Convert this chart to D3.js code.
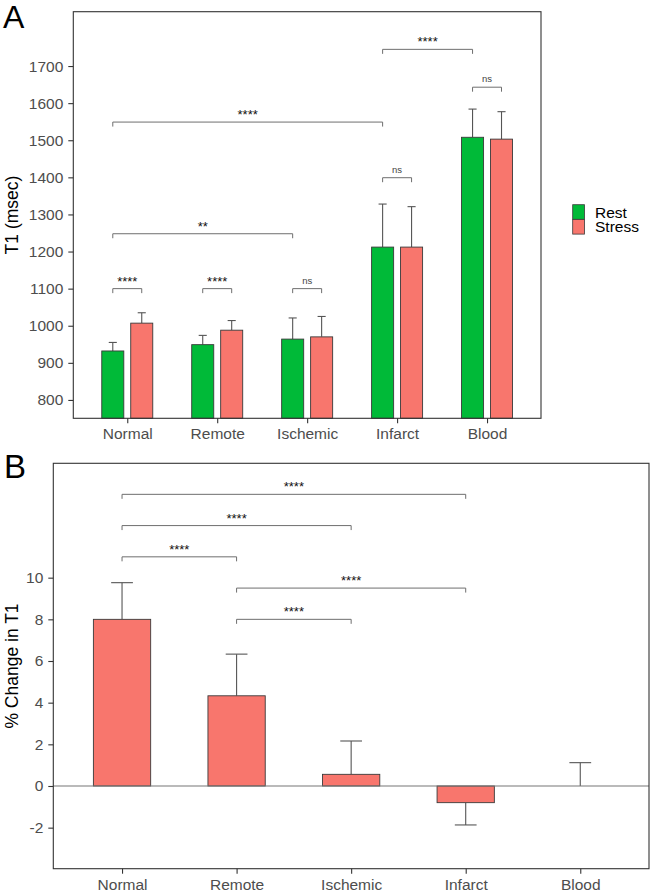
<!DOCTYPE html>
<html>
<head>
<meta charset="utf-8">
<script src="https://cdn.jsdelivr.net/npm/d3@7"></script>
<style>
  html, body { margin: 0; padding: 0; background: #fff; }
  svg { display: block; font-family: "Liberation Sans", Arial, sans-serif; }
</style>
</head>
<body>
<svg id="chart" width="652" height="893"></svg>
<script>
// ---------------- DATA ----------------
const categories = ["Normal", "Remote", "Ischemic", "Infarct", "Blood"];
const groups = ["Rest", "Stress"];
const restMean = [932, 949, 964, 1212, 1508];
const restSD = [23, 25, 57, 116, 76];
const stressMean = [1007, 988, 970, 1212, 1503];
const stressSD = [28, 26, 55, 109, 74];
const yTicksA = [800, 900, 1000, 1100, 1200, 1300, 1400, 1500, 1600, 1700];

// brackets for panel A: [cat1, group1, cat2, group2, yValue, label]
const bracketsA = [
  ["Normal", "Rest", "Normal", "Stress", 1100, "****"],
  ["Remote", "Rest", "Remote", "Stress", 1100, "****"],
  ["Ischemic", "Rest", "Ischemic", "Stress", 1100, "ns"],
  ["Normal", "Rest", "Ischemic", "Rest", 1248, "**"],
  ["Normal", "Rest", "Infarct", "Rest", 1549, "****"],
  ["Infarct", "Rest", "Infarct", "Stress", 1399, "ns"],
  ["Blood", "Rest", "Blood", "Stress", 1643, "ns"],
  ["Infarct", "Rest", "Blood", "Rest", 1745, "****"]
];

const changeMean = [8.0, 4.33, 0.56, -0.8, 0.0];
const changeSD = [1.76, 2.0, 1.6, 1.07, 1.12];
const yTicksB = [-2, 0, 2, 4, 6, 8, 10];
// brackets for panel B: [cat1, cat2, yValue, label]
const bracketsB = [
  ["Normal", "Infarct", 14.0, "****"],
  ["Normal", "Ischemic", 12.5, "****"],
  ["Normal", "Remote", 11.0, "****"],
  ["Remote", "Infarct", 9.5, "****"],
  ["Remote", "Ischemic", 8.0, "****"]
];

// ---------------- STYLE ----------------
const colors = { Rest: "#00BA38", Stress: "#F8766D" };
const tickColor = "#4d4d4d";
const svg = d3.select("#chart");
const fmt = d => String(d);

function frame(g, x0, x1, y0, y1) {
  g.append("rect").attr("x", x0).attr("y", y0).attr("width", x1 - x0).attr("height", y1 - y0)
    .attr("fill", "none").attr("stroke", "#333").attr("stroke-width", 1.1);
}

function styleAxis(sel) {
  sel.select(".domain").remove();
  sel.selectAll(".tick line").attr("stroke", "#333").attr("stroke-width", 1.1);
  sel.selectAll(".tick text").attr("fill", tickColor).style("font-size", "15.5px")
     .style("font-family", "'Liberation Sans', Arial, sans-serif");
}

function bracket(g, xa, xb, y, label, fontSize, ofs) {
  g.append("path")
    .attr("d", `M${xa},${y + 4.5}V${y}H${xb}V${y + 4.5}`)
    .attr("fill", "none").attr("stroke", "#6e6e6e").attr("stroke-width", 1);
  g.append("text").attr("x", (xa + xb) / 2).attr("y", y - ofs)
    .attr("text-anchor", "middle").attr("fill", label === "ns" ? "#444" : "#111")
    .style("font-size", fontSize + "px").text(label);
}

// ---------------- PANEL A ----------------
{
  const L = 73.3, R = 541, T = 11.7, B = 418.3;
  const gA = svg.append("g");
  const x = d3.scaleLinear().domain([0.4, categories.length + 0.6]).range([L, R]);
  const y = d3.scaleLinear().domain([750.5, 1846.5]).range([B, T]);
  const unit = x(2) - x(1);
  const barW = 0.245 * unit;
  const off = 0.161 * unit;
  const capW = 0.09 * unit;
  const cx = (c, gname) => x(categories.indexOf(c) + 1) + (gname === "Rest" ? -off : off);

  const rows = [];
  categories.forEach((c, i) => {
    rows.push({ c, g: "Rest", m: restMean[i], sd: restSD[i] });
    rows.push({ c, g: "Stress", m: stressMean[i], sd: stressSD[i] });
  });

  // error bars (upper only)
  const eb = gA.append("g").attr("stroke", "#555").attr("stroke-width", 1.1);
  rows.forEach(r => {
    const xc = cx(r.c, r.g);
    eb.append("line").attr("x1", xc).attr("x2", xc).attr("y1", y(r.m)).attr("y2", y(r.m + r.sd));
    eb.append("line").attr("x1", xc - capW / 2).attr("x2", xc + capW / 2).attr("y1", y(r.m + r.sd)).attr("y2", y(r.m + r.sd));
  });
  // bars
  gA.append("g").selectAll("rect").data(rows).join("rect")
    .attr("x", d => cx(d.c, d.g) - barW / 2)
    .attr("width", barW)
    .attr("y", d => y(d.m))
    .attr("height", d => B - y(d.m))
    .attr("fill", d => colors[d.g])
    .attr("stroke", "#3a3a3a").attr("stroke-width", 0.9);

  frame(gA, L, R, T, B);

  const yAx = gA.append("g").attr("transform", `translate(${L},0)`)
    .call(d3.axisLeft(y).tickValues(yTicksA).tickSize(5).tickPadding(5).tickFormat(fmt));
  styleAxis(yAx);
  const xAx = gA.append("g").attr("transform", `translate(0,${B})`)
    .call(d3.axisBottom(x).tickValues(categories.map((c, i) => i + 1)).tickSize(5).tickPadding(5)
      .tickFormat(d => categories[d - 1]));
  styleAxis(xAx);

  bracketsA.forEach(b => {
    const ns = b[5] === "ns";
    bracket(gA, cx(b[0], b[1]), cx(b[2], b[3]), y(b[4]), b[5], ns ? 9.5 : 13, ns ? 5 : 3);
  });

  gA.append("text").attr("transform", `translate(18,${(T + B) / 2}) rotate(-90)`)
    .attr("text-anchor", "middle").attr("fill", "#000").style("font-size", "17.5px").text("T1 (msec)");

  // legend
  const lg = svg.append("g").attr("transform", "translate(572.7,204.7)");
  groups.forEach((gname, i) => {
    lg.append("rect").attr("x", 0).attr("y", i * 14.8).attr("width", 11.8).attr("height", 14.6)
      .attr("fill", colors[gname]).attr("stroke", "#3a3a3a").attr("stroke-width", 0.8);
    lg.append("text").attr("x", 22.3).attr("y", i * 14.8 + 13).attr("fill", "#000")
      .style("font-size", "15.5px").text(gname);
  });

  svg.append("text").attr("x", 3).attr("y", 27.5).attr("fill", "#000")
    .style("font-size", "32px").text("A");
}

// ---------------- PANEL B ----------------
{
  const L = 53.3, R = 649, T = 463.3, B = 868.7;
  const gB = svg.append("g");
  const x = d3.scaleLinear().domain([0.4, categories.length + 0.6]).range([L, R]);
  const y = d3.scaleLinear().domain([-3.97, 15.49]).range([B, T]);
  const unit = x(2) - x(1);
  const barW = 0.5 * unit;
  const capW = 0.19 * unit;
  const cx = c => x(categories.indexOf(c) + 1);

  const rows = categories.map((c, i) => ({ c, m: changeMean[i], sd: changeSD[i] }));

  const eb = gB.append("g").attr("stroke", "#555").attr("stroke-width", 1.1);
  rows.forEach(r => {
    const xc = cx(r.c);
    const end = r.m < 0 ? r.m - r.sd : r.m + r.sd;
    eb.append("line").attr("x1", xc).attr("x2", xc).attr("y1", y(r.m)).attr("y2", y(end));
    eb.append("line").attr("x1", xc - capW / 2).attr("x2", xc + capW / 2).attr("y1", y(end)).attr("y2", y(end));
  });

  gB.append("g").selectAll("rect").data(rows.filter(r => r.m !== 0)).join("rect")
    .attr("x", d => cx(d.c) - barW / 2)
    .attr("width", barW)
    .attr("y", d => y(Math.max(0, d.m)))
    .attr("height", d => Math.abs(y(d.m) - y(0)))
    .attr("fill", colors.Stress)
    .attr("stroke", "#3a3a3a").attr("stroke-width", 0.9);

  gB.append("line").attr("x1", L).attr("x2", R).attr("y1", y(0)).attr("y2", y(0))
    .attr("stroke", "#777").attr("stroke-width", 1.1);

  frame(gB, L, R, T, B);

  const yAx = gB.append("g").attr("transform", `translate(${L},0)`)
    .call(d3.axisLeft(y).tickValues(yTicksB).tickSize(5).tickPadding(5).tickFormat(fmt));
  styleAxis(yAx);
  const xAx = gB.append("g").attr("transform", `translate(0,${B})`)
    .call(d3.axisBottom(x).tickValues(categories.map((c, i) => i + 1)).tickSize(5).tickPadding(5)
      .tickFormat(d => categories[d - 1]));
  styleAxis(xAx);

  bracketsB.forEach(b => bracket(gB, cx(b[0]), cx(b[1]), y(b[2]), b[3], 13, 3));

  gB.append("text").attr("transform", `translate(18,${(T + B) / 2}) rotate(-90)`)
    .attr("text-anchor", "middle").attr("fill", "#000").style("font-size", "17.5px").text("% Change in T1");

  svg.append("text").attr("x", 4).attr("y", 478).attr("fill", "#000")
    .style("font-size", "33px").text("B");
}
</script>
</body>
</html>
